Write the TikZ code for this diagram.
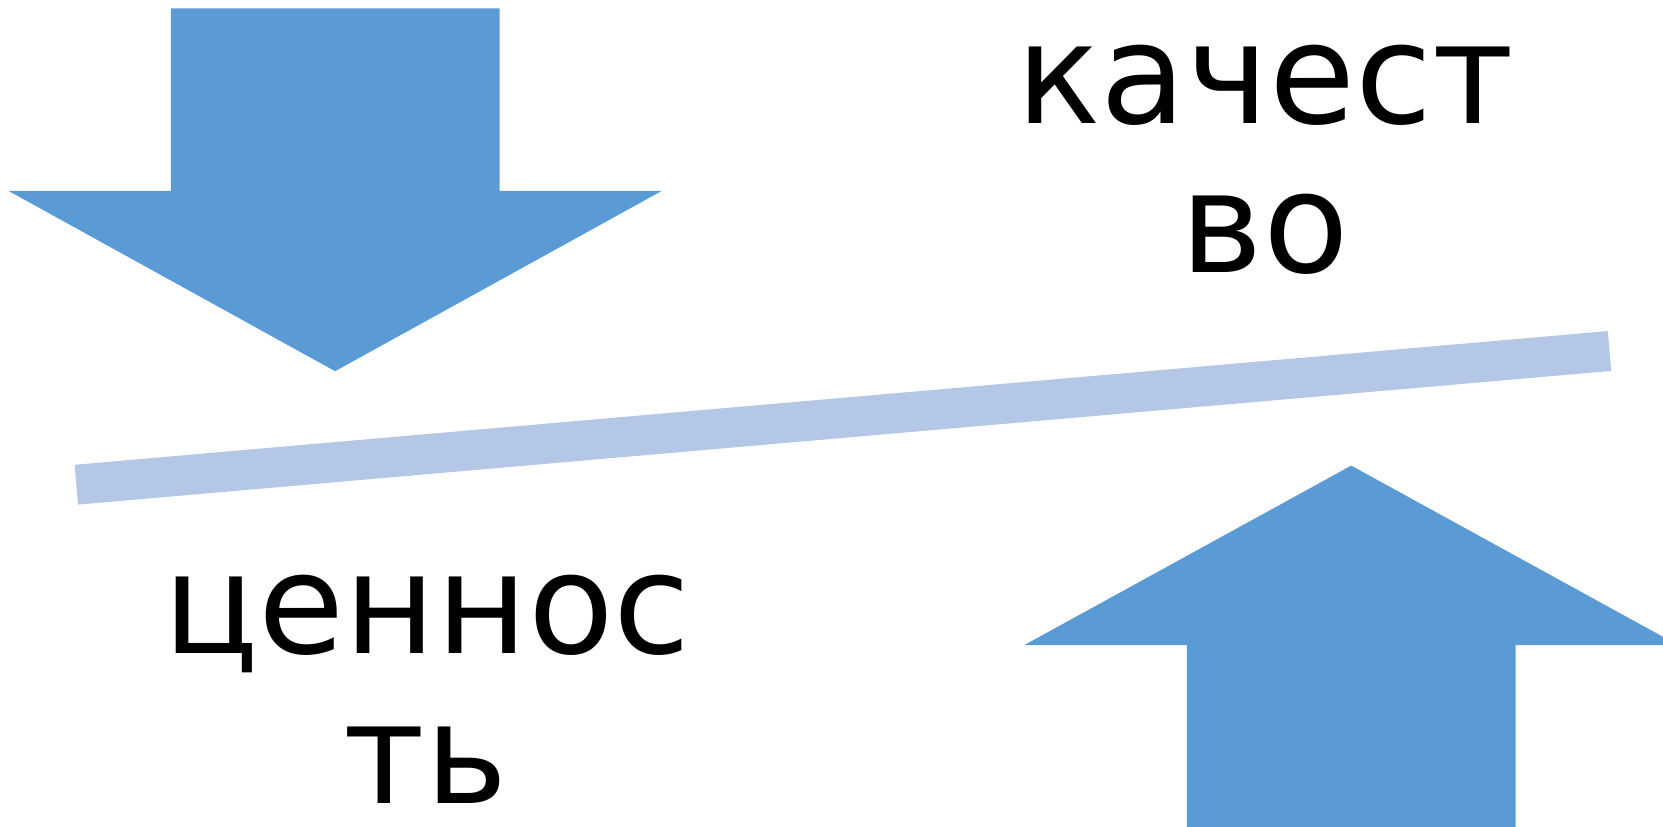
\documentclass[tikz,border=0pt]{standalone}
\usepackage{fontspec}
\setmainfont{DejaVu Sans}
\definecolor{arrowblue}{HTML}{5B9BD5}
\definecolor{beamblue}{HTML}{B4C7E7}
\tikzset{
  bigarrow/.style={fill=arrowblue, draw=none},
  beam/.style={draw=beamblue, line width=30pt, line cap=butt},
  lbl/.style={anchor=base, inner sep=0pt, font=\fontsize{105}{112}\selectfont}
}
\begin{document}
\begin{tikzpicture}[x=0.75pt, y=-0.75pt]
\useasboundingbox (0,0) rectangle (1663,827);
\clip (0,0) rectangle (1663,827);
% down arrow (top left)
\fill[bigarrow] (170.8,8.5) -- (499.5,8.5) -- (499.5,190.9) -- (661.8,190.9)
  -- (335.1,371.2) -- (8.5,190.9) -- (170.8,190.9) -- cycle;
% up arrow (bottom right)
\fill[bigarrow] (1186.8,840) -- (1186.8,645) -- (1024.5,645) -- (1351.2,465.6)
  -- (1677.9,645) -- (1515.6,645) -- (1515.6,840) -- cycle;
% beam
\coordinate (bl) at (76.4,484.7);
\coordinate (br) at (1609.5,351);
\draw[beam] (bl) -- (br);
% labels
\node[lbl] (q1) at (1265,124) {качест};
\node[lbl] (q2) at (1265,272.6) {во};
\node[lbl] (c1) at (427,653) {ценнос};
\node[lbl] (c2) at (426,803) {ть};
\end{tikzpicture}
\end{document}
